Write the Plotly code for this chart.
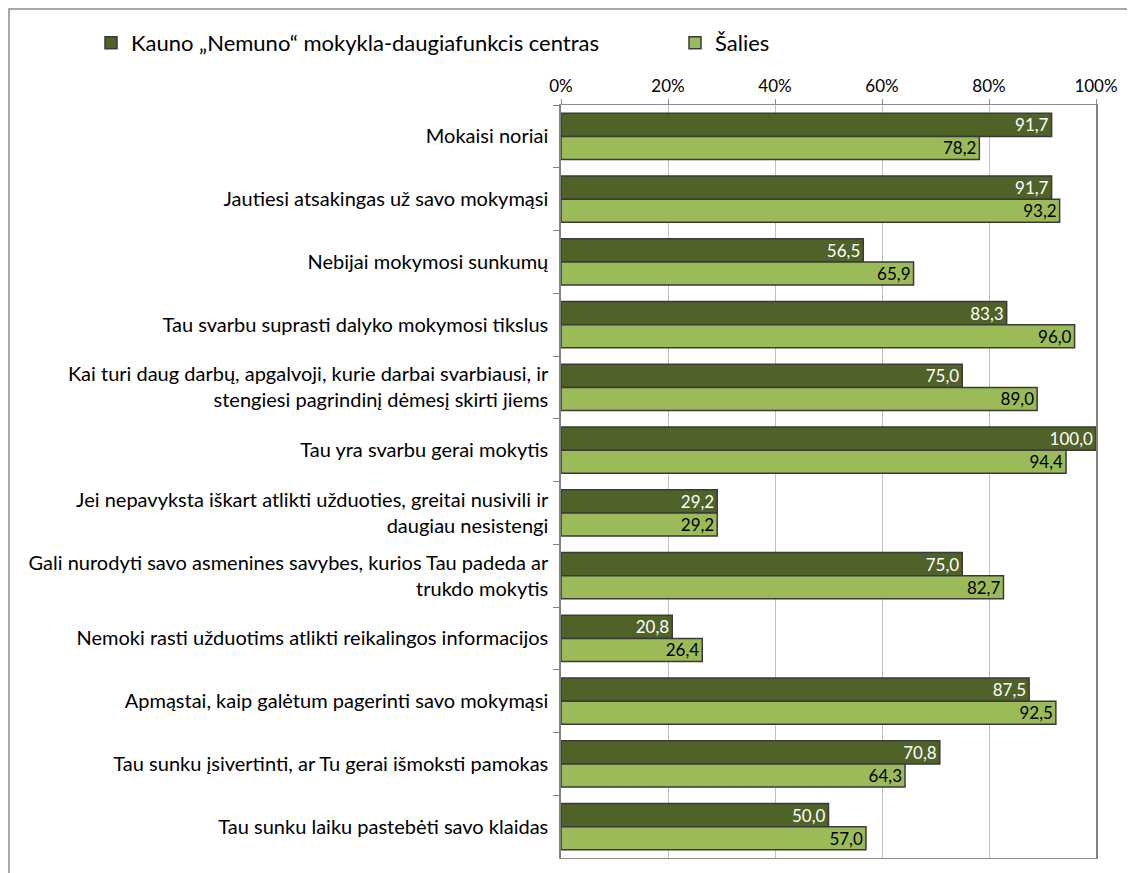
import plotly.graph_objects as go

categories = [
    "Mokaisi noriai",
    "Jautiesi atsakingas už savo mokymąsi",
    "Nebijai mokymosi sunkumų",
    "Tau svarbu suprasti dalyko mokymosi tikslus",
    "Kai turi daug darbų, apgalvoji, kurie darbai svarbiausi, ir<br>stengiesi pagrindinį dėmesį skirti jiems",
    "Tau yra svarbu gerai mokytis",
    "Jei nepavyksta iškart atlikti užduoties, greitai nusivili ir<br>daugiau nesistengi",
    "Gali nurodyti savo asmenines savybes, kurios Tau padeda ar<br>trukdo mokytis",
    "Nemoki rasti užduotims atlikti reikalingos informacijos",
    "Apmąstai, kaip galėtum pagerinti savo mokymąsi",
    "Tau sunku įsivertinti, ar Tu gerai išmoksti pamokas",
    "Tau sunku laiku pastebėti savo klaidas",
]
school = [91.7, 91.7, 56.5, 83.3, 75.0, 100.0, 29.2, 75.0, 20.8, 87.5, 70.8, 50.0]
country = [78.2, 93.2, 65.9, 96.0, 89.0, 94.4, 29.2, 82.7, 26.4, 92.5, 64.3, 57.0]
series_names = ["Kauno „Nemuno“ mokykla-daugiafunkcis centras", "Šalies"]
x_ticks = [0, 20, 40, 60, 80, 100]

FONT = "Lato"
dark = "#4F6228"
light = "#9BBB59"
FS = 17
CAT_FS = 20
LEG_FS = 22

def fmt(v):
    return f"{v:.1f}".replace(".", ",")

fig = go.Figure()
fig.add_trace(go.Bar(
    y=categories, x=school, orientation="h", name=series_names[0],
    marker=dict(color=dark, line=dict(color="#3a3a3a", width=1.5)),
    text=[fmt(v) for v in school], textposition="inside", insidetextanchor="end",
    textfont=dict(color="white", size=FS, family=FONT), cliponaxis=False,
    legend="legend",
))
fig.add_trace(go.Bar(
    y=categories, x=country, orientation="h", name=series_names[1],
    marker=dict(color=light, line=dict(color="#3a3a3a", width=1.5)),
    text=[fmt(v) for v in country], textposition="inside", insidetextanchor="end",
    textfont=dict(color="black", size=FS, family=FONT), cliponaxis=False,
    legend="legend2",
))

# page is rendered with an 8px body margin; compensate
W, H = 1127, 865
L, R, T, B = 553, 39, 97, 15
PW = W - L - R
PH = H - T - B
def px_x(page_x):
    return (page_x - 8 - L) / PW
def px_y(page_y):
    return (8 + T + PH - page_y) / PH

leg_common = dict(orientation="h", xanchor="left", yanchor="middle",
                  font=dict(size=LEG_FS, family=FONT), itemwidth=30)

fig.update_layout(
    width=W, height=H,
    barmode="group", bargap=0.26, bargroupgap=0,
    plot_bgcolor="white", paper_bgcolor="white",
    margin=dict(l=L, r=R, t=T, b=B),
    font=dict(family=FONT, size=FS, color="black"),
    uniformtext=dict(mode="show", minsize=FS),
    showlegend=True,
    legend=dict(x=px_x(91), y=px_y(43), **leg_common),
    legend2=dict(x=px_x(675), y=px_y(43), **leg_common),
    shapes=[dict(type="rect", xref="paper", yref="paper", x0=px_x(9), x1=px_x(1160),
                 y0=px_y(900), y1=px_y(9),
                 line=dict(color="#8c8c8c", width=1.5), fillcolor="rgba(0,0,0,0)", layer="below")],
)
fig.update_xaxes(side="top", range=[0, 100], tickvals=x_ticks, ticktext=[f"{t}%" for t in x_ticks],
                 showgrid=True, gridcolor="#c0c0c0", gridwidth=1.3,
                 showline=True, linecolor="#8c8c8c", linewidth=1.3, mirror=True,
                 ticks="outside", ticklen=5, tickcolor="#8c8c8c",
                 tickfont=dict(size=FS, family=FONT), zeroline=False, fixedrange=True)
fig.update_yaxes(autorange="reversed", showline=True, linecolor="#808080", linewidth=1.5, mirror=True,
                 ticks="outside", tickson="boundaries", ticklen=6, tickcolor="#808080",
                 ticklabelstandoff=7,
                 tickfont=dict(size=CAT_FS, family=FONT), showgrid=False, fixedrange=True)

fig.write_html("out.html")
